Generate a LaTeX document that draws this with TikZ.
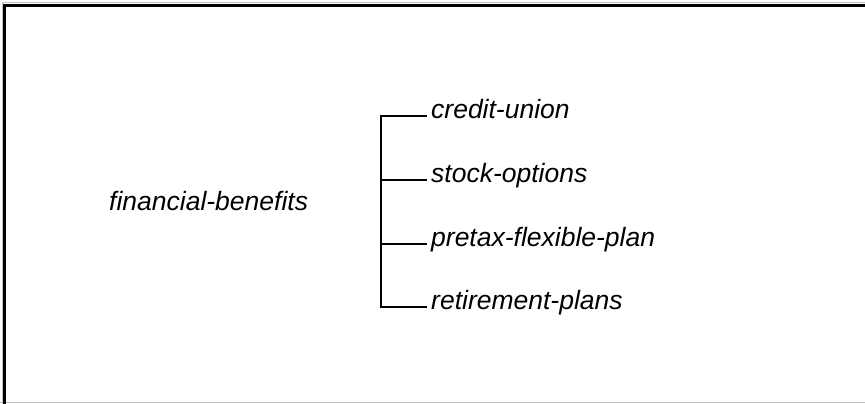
\documentclass[tikz,border=0pt]{standalone}
\usepackage{fontspec}
\setmainfont{Liberation Sans}
\usetikzlibrary{positioning}

\begin{document}
\begin{tikzpicture}[x=1pt,y=-1pt]
\tikzstyle{every node}=[font=\fontsize{26.5}{30}\selectfont\itshape,text height=0.8em,text depth=0.25em]
\tikzstyle{leaf}=[anchor=west,inner sep=4pt]
\tikzstyle{branch}=[line width=2pt]
\useasboundingbox (0,0) rectangle (865,404);
\fill[white] (0,0) rectangle (865,404);
% window frame
\draw[gray!50,line width=1pt] (0,402.5) -- (865,402.5);
\draw[gray!50,line width=1pt] (2,404) -- (2,3) -- (865,3);
\draw[line width=2.5pt] (4.5,404) -- (4.5,5.5) -- (865,5.5);
\node[anchor=west,inner sep=0pt] (benefits) at (109,208) {financial-benefits};
\node[leaf] (credit) at (427,116) {credit-union};
\node[leaf] (stock) at (427,180) {stock-options};
\node[leaf] (pretax) at (427,244) {pretax-flexible-plan};
\node[leaf] (retire) at (427,307) {retirement-plans};
\coordinate (bar) at (381,0);
\draw[branch] (credit.west) -| (bar |- retire.west) -- (retire.west);
\draw[branch] (stock.west) -- (stock.west -| bar);
\draw[branch] (pretax.west) -- (pretax.west -| bar);
\end{tikzpicture}
\end{document}
